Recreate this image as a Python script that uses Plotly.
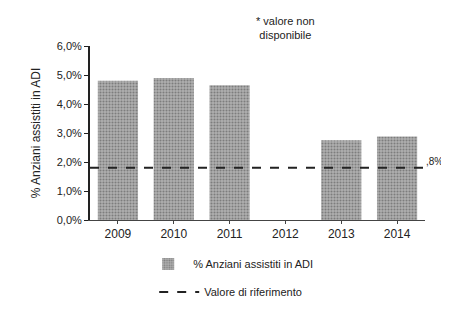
import plotly.graph_objects as go

years = [2009, 2010, 2011, 2012, 2013, 2014]
values = [4.8, 4.9, 4.65, None, 2.75, 2.88]
reference = 1.8
tick_vals = [0, 1, 2, 3, 4, 5, 6]
tick_text = ["0,0%", "1,0%", "2,0%", "3,0%", "4,0%", "5,0%", "6,0%"]
series_name = "% Anziani assistiti in ADI"
ref_name = "Valore di riferimento"
note = "* valore non<br>disponibile"
ref_label = ",8%"

fig = go.Figure()
fig.add_trace(go.Bar(
    x=years, y=values, name=series_name, width=0.72,
    marker=dict(color="#a0a0a0", line=dict(width=0),
                pattern=dict(shape=".", fgcolor="#4a4a4a", bgcolor="#b0b0b0",
                             size=3, solidity=0.4)),
    legend="legend",
))
fig.add_trace(go.Scatter(
    x=[years[0] - 0.5, years[-1] + 0.5], y=[reference, reference],
    mode="lines", name=ref_name,
    line=dict(color="#222222", width=2, dash="dash"),
    legend="legend2",
))

fig.update_layout(
    width=449, height=310,
    margin=dict(l=82, r=32, t=38, b=94),
    paper_bgcolor="white", plot_bgcolor="white",
    font=dict(family="Liberation Sans, Arial, sans-serif", size=11, color="#222222"),
    xaxis=dict(range=[years[0] - 0.5, years[-1] + 0.5], tickvals=years,
               ticktext=[str(y) for y in years], showgrid=False,
               showline=True, linecolor="#444444", linewidth=1,
               ticks="outside", ticklen=3, tickcolor="#444444",
               tickfont=dict(size=12)),
    yaxis=dict(range=[0, 6], tickvals=tick_vals, ticktext=tick_text,
               showgrid=False, showline=True, linecolor="#222222", linewidth=2,
               ticks="outside", ticklen=4, tickcolor="#222222",
               tickfont=dict(size=11),
               title=dict(text=series_name, font=dict(size=12), standoff=14)),
    legend=dict(x=0.42, xanchor="center", y=-0.17, yanchor="top",
                bgcolor="rgba(0,0,0,0)", font=dict(size=11), itemwidth=40),
    legend2=dict(x=0.42, xanchor="center", y=-0.33, yanchor="top",
                 bgcolor="rgba(0,0,0,0)", font=dict(size=11), itemwidth=40),
    showlegend=True,
    bargap=0.28,
)
fig.add_annotation(x=years[3], y=1.0, xref="x", yref="paper", yanchor="bottom",
                   text=note, showarrow=False, font=dict(size=11), yshift=3)
fig.add_annotation(x=1.0, y=reference, xref="paper", yref="y", xanchor="left",
                   text=ref_label, showarrow=False, font=dict(size=10),
                   borderpad=0, xshift=0, yshift=6)

fig.write_html("out.html")
